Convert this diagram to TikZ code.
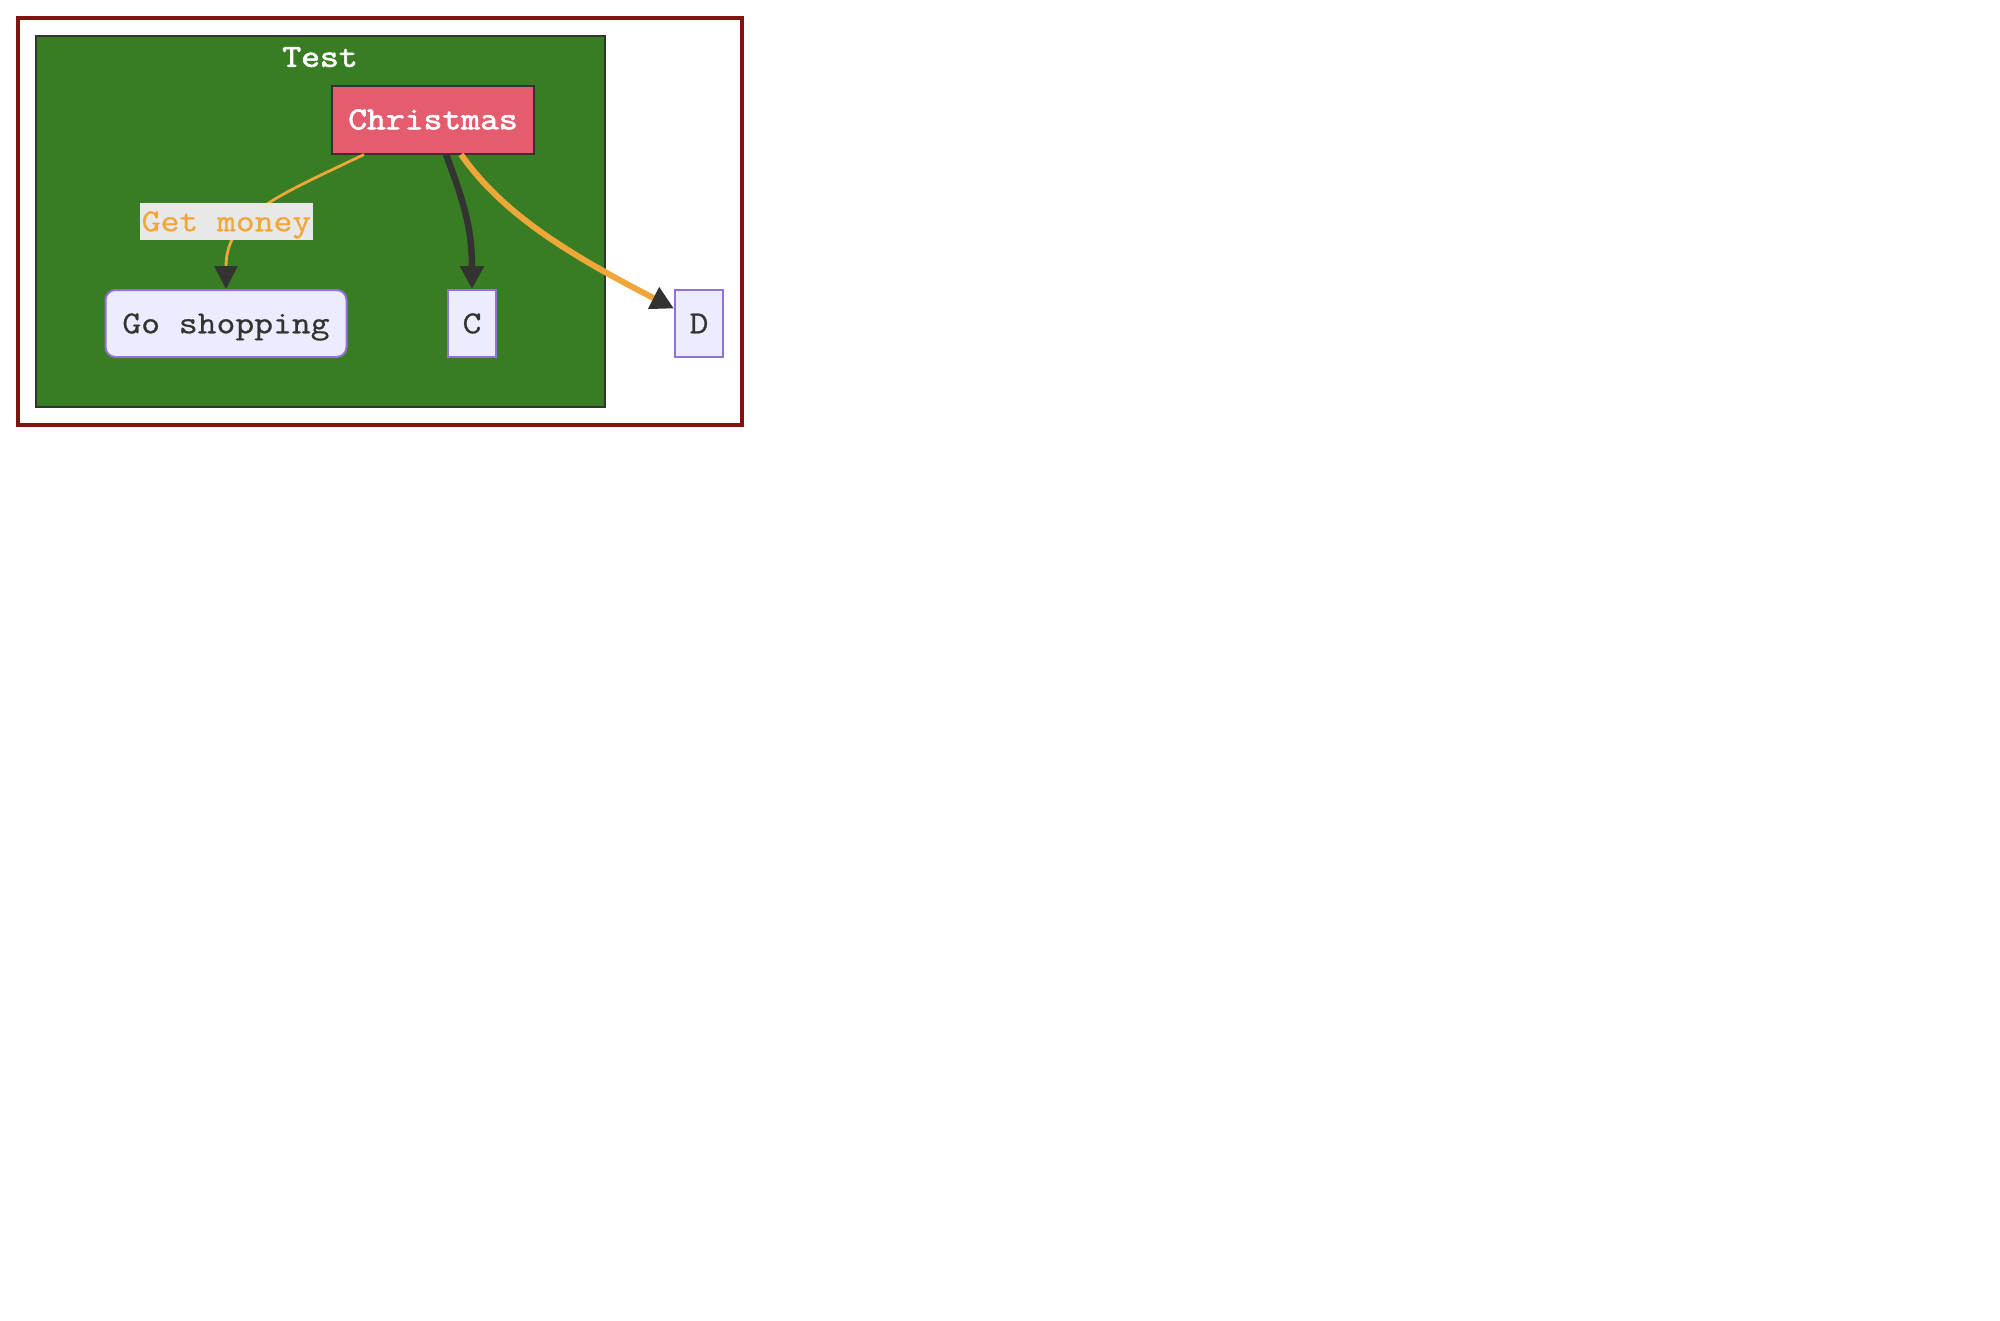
\documentclass[tikz,border=0pt]{standalone}
\usepackage{fontspec}
\setmainfont{Liberation Mono}
\newfontfamily\courfont[FakeStretch=1.143,FakeBold=0.7]{Latin Modern Mono}
\newfontfamily\courbold[FakeStretch=1.143,FakeBold=2.2]{Latin Modern Mono}
\usetikzlibrary{arrows.meta}
\definecolor{grn}{HTML}{387D23}
\definecolor{dk}{HTML}{333333}
\definecolor{xred}{HTML}{E55C6E}
\definecolor{nodefill}{HTML}{ECECFF}
\definecolor{nodestroke}{HTML}{9370DB}
\definecolor{orng}{HTML}{F0A73A}
\definecolor{outer}{HTML}{801510}
\definecolor{lblbg}{HTML}{E8E8E8}
\tikzset{
  captext/.style={text height=19.5pt, text depth=0pt},
  plainbox/.style={draw=nodestroke, fill=nodefill, line width=2pt, inner sep=0pt, text=dk,
    font=\courfont\fontsize{32}{38}\selectfont, minimum height=67pt, captext},
  tipdk/.style={-{Triangle[length=23pt,width=23pt,color=dk]}},
}
\begin{document}
\begin{tikzpicture}[x=1pt,y=-1pt]
\useasboundingbox (0,0) rectangle (2000,1320);
\fill[white] (0,0) rectangle (2000,1320);
% outer frame
\draw[outer, line width=4pt] (18,18) rectangle (742,425);
% subgraph
\draw[dk, fill=grn, line width=2pt] (36,36) rectangle (605,407);
\node[text=white, font=\courbold\fontsize{32}{38}\selectfont, captext] (title) at (320,57) {Test};
% nodes
\node[draw=dk, fill=xred, line width=2pt, inner sep=0pt, minimum width=202pt, minimum height=68pt,
  text=white, font=\courbold\fontsize{32}{38}\selectfont, captext] (xmas) at (433,119.5) {Christmas};
\node[plainbox, rounded corners=10pt, minimum width=241pt] (gs) at (226,323.5) {Go shopping};
\node[plainbox, minimum width=48pt] (C) at (472,323.5) {C};
\node[plainbox, minimum width=48pt] (D) at (699,323.5) {D};
% edges
\draw[orng, line width=2.8pt, tipdk] ([xshift=33pt]xmas.south west) .. controls (280,195) and (226,215) .. (gs.north);
\draw[dk, line width=6.5pt, tipdk] ([xshift=115pt]xmas.south west) .. controls (465,205) and (472,230) .. (C.north);
\draw[orng, line width=6pt, tipdk] ([xshift=130pt]xmas.south west) .. controls (500,210) and (560,250) .. ([yshift=15pt]D.west);
% edge label
\node[fill=lblbg, inner sep=0pt, minimum width=173pt, minimum height=37pt, text=orng,
  font=\courfont\fontsize{32}{38}\selectfont, captext] (lbl) at (226.5,221.5) {Get money};
\end{tikzpicture}
\end{document}
